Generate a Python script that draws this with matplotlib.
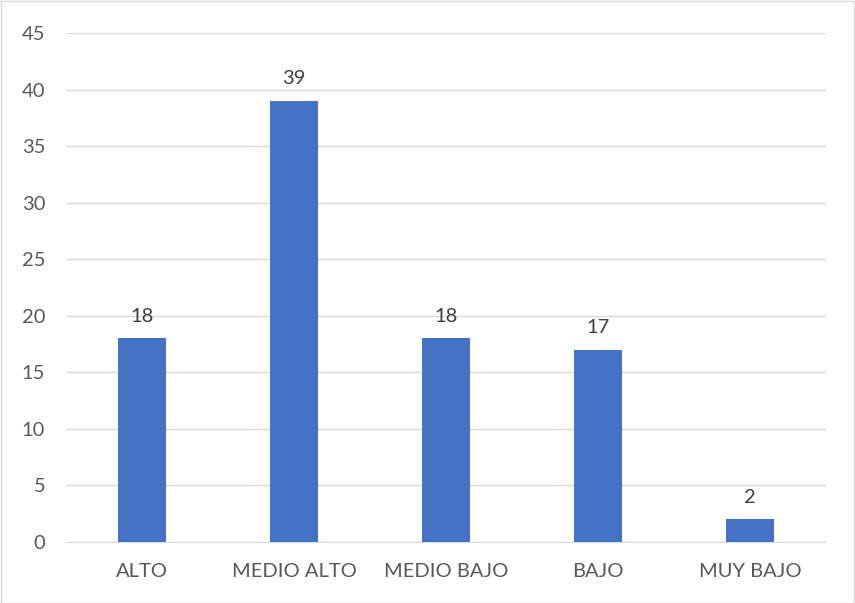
import matplotlib
matplotlib.use("Agg")
import matplotlib.pyplot as plt
from matplotlib.patches import Rectangle

categories = ["ALTO", "MEDIO ALTO", "MEDIO BAJO", "BAJO", "MUY BAJO"]
values = [18, 39, 18, 17, 2]
yticks = [0, 5, 10, 15, 20, 25, 30, 35, 40, 45]

plt.rcParams['font.family'] = ['Lato', 'DejaVu Sans']

W, H = 855, 603
fig = plt.figure(figsize=(W / 100, H / 100), dpi=100)
ax = fig.add_axes([66 / W, 1 - 542 / H, (826 - 66) / W, (542 - 33) / H])

x = list(range(len(categories)))
bars = ax.bar(x, values, width=0.31, color="#4472C4", zorder=3)
for xi, v in zip(x, values):
    ax.text(xi, v + 1.2, str(v), ha="center", va="bottom", fontsize=14.5, color="#404040")

ax.set_xlim(-0.5, len(categories) - 0.5)
ax.set_ylim(0, 45)
ax.set_yticks(yticks)
ax.set_xticks(x)
ax.set_xticklabels(categories)
ax.yaxis.grid(True, color="#D9D9D9", linewidth=1, zorder=0)
ax.tick_params(axis="both", length=0, labelsize=14.5, labelcolor="#595959")
ax.tick_params(axis="y", pad=15)
ax.tick_params(axis="x", pad=15)
for s in ["top", "right", "left"]:
    ax.spines[s].set_visible(False)
ax.spines["bottom"].set_color("#D9D9D9")

fig.patches.append(Rectangle((0.5 / W, 0.5 / H), 1 - 1.5 / W, 1 - 1.5 / H,
                             transform=fig.transFigure, fill=False,
                             edgecolor="#D9D9D9", linewidth=1))
fig.savefig("out.png", dpi=100)
